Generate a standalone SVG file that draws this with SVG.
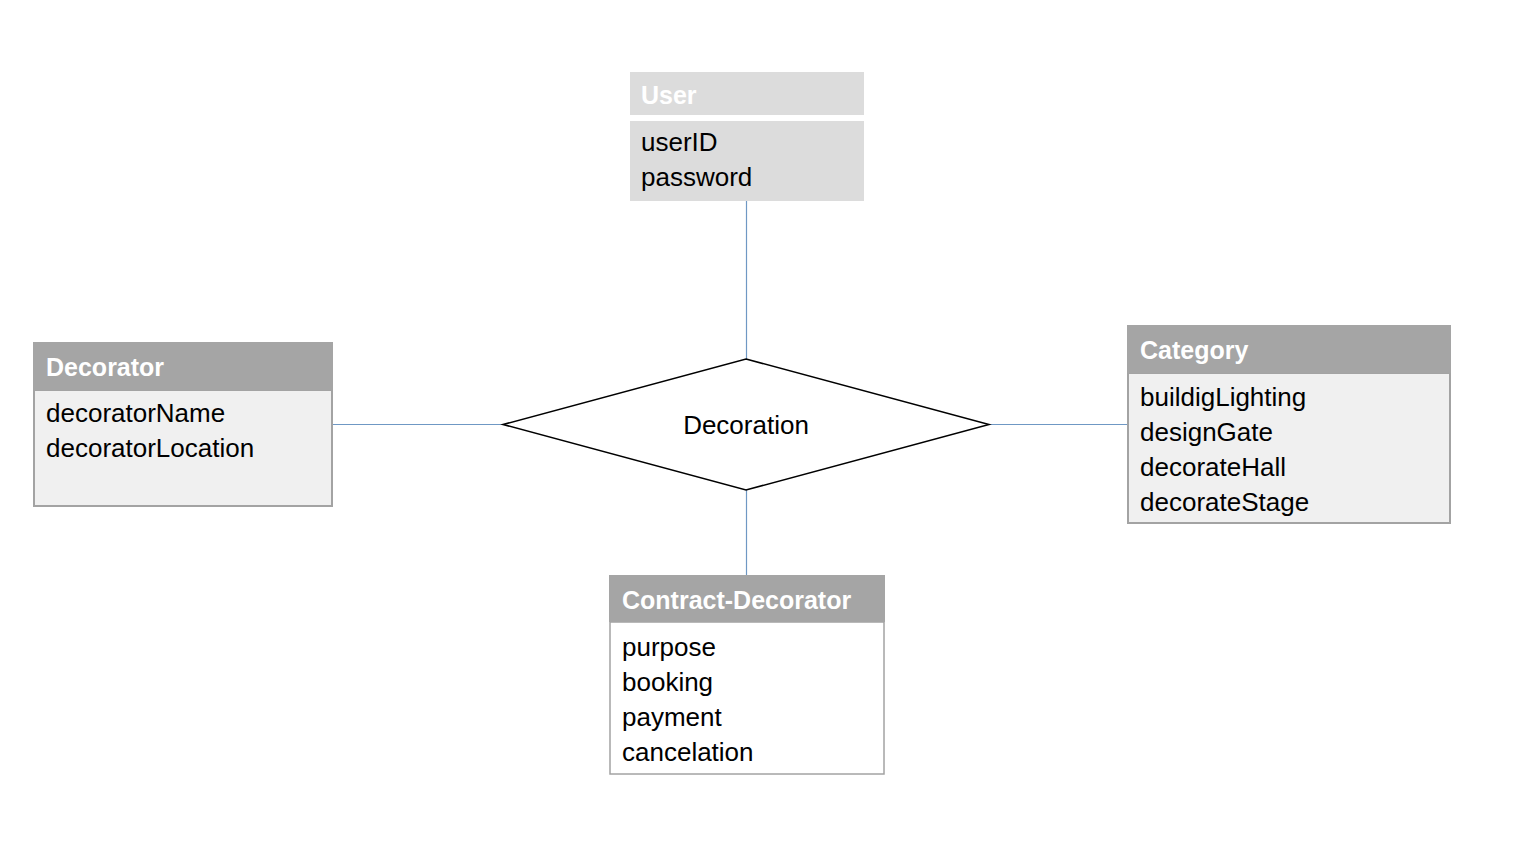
<svg xmlns="http://www.w3.org/2000/svg" width="1528" height="847" viewBox="0 0 1528 847">
<style>
.hdr{fill:#a5a5a5}
.body{fill:#f0f0f0;stroke:#a3a3a3;stroke-width:2}
.title{font-family:"Liberation Sans",Arial,sans-serif;font-weight:bold;font-size:25px;fill:#ffffff}
.attr{font-family:"Liberation Sans",Arial,sans-serif;font-size:26px;fill:#000000}
.conn{stroke:#6f98c4;stroke-width:1.2;fill:none}
</style>
<rect width="1528" height="847" fill="#ffffff"/>
<g id="connectors">
<line class="conn" x1="746.5" y1="200" x2="746.5" y2="359"/>
<line class="conn" x1="332" y1="424.5" x2="503" y2="424.5"/>
<line class="conn" x1="989" y1="424.5" x2="1127" y2="424.5"/>
<line class="conn" x1="746.5" y1="490" x2="746.5" y2="575"/>
</g>
<g id="user">
<rect x="630" y="72" width="234" height="43" fill="#dcdcdc"/>
<rect x="630" y="121" width="234" height="80" fill="#dcdcdc"/>
<text class="title" x="641" y="104">User</text>
<text class="attr" x="641" y="151">userID</text>
<text class="attr" x="641" y="186">password</text>
</g>
<g id="decorator">
<rect class="body" x="34" y="390" width="298" height="116"/>
<rect class="hdr" x="33" y="342" width="300" height="48"/>
<text class="title" x="46" y="376">Decorator</text>
<text class="attr" x="46" y="422">decoratorName</text>
<text class="attr" x="46" y="457">decoratorLocation</text>
</g>
<g id="category">
<rect class="body" x="1128" y="373" width="322" height="150"/>
<rect class="hdr" x="1127" y="325" width="324" height="48"/>
<text class="title" x="1140" y="359">Category</text>
<text class="attr" x="1140" y="406">buildigLighting</text>
<text class="attr" x="1140" y="441">designGate</text>
<text class="attr" x="1140" y="476">decorateHall</text>
<text class="attr" x="1140" y="511">decorateStage</text>
</g>
<g id="contract-decorator">
<rect x="610" y="622" width="274" height="152" fill="#ffffff" stroke="#a3a3a3" stroke-width="1.5"/>
<rect class="hdr" x="609" y="575" width="276" height="47"/>
<text class="title" x="622" y="609">Contract-Decorator</text>
<text class="attr" x="622" y="656">purpose</text>
<text class="attr" x="622" y="691">booking</text>
<text class="attr" x="622" y="726">payment</text>
<text class="attr" x="622" y="761">cancelation</text>
</g>
<g id="decoration">
<polygon points="746,359 989,424.5 746,490 503,424.5" fill="#ffffff" stroke="#000000" stroke-width="1.5"/>
<text class="attr" x="746" y="434" text-anchor="middle">Decoration</text>
</g>
</svg>
